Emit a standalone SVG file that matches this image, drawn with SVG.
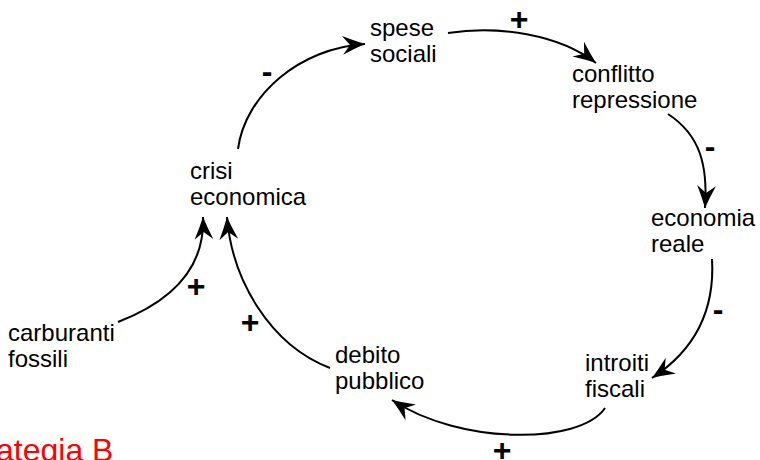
<svg xmlns="http://www.w3.org/2000/svg" width="760" height="460" viewBox="0 0 760 460">
<style>
.lbl{font-family:"Liberation Sans",Arial,sans-serif;font-size:24px;fill:#000}
.sgn{font-family:"Liberation Sans",Arial,sans-serif;font-size:32px;font-weight:bold;fill:#000;text-anchor:middle}
.title{font-family:"Liberation Sans",Arial,sans-serif;font-size:32px;fill:#ff0000}
.edge{fill:none;stroke:#000;stroke-width:2;marker-end:url(#arr)}
</style>
<defs>
<marker id="arr" markerUnits="userSpaceOnUse" orient="auto" markerWidth="30" markerHeight="30" refX="0" refY="0" viewBox="-28 -14 32 28" overflow="visible">
<path d="M0,0 Q-11,-4 -24,-10 L-16,0 L-24,10 Q-11,4 0,0 Z" fill="#000"/>
</marker>
</defs>
<rect width="760" height="460" fill="#fff"/>
<g id="edges">
<path class="edge" d="M238,149 C245,95 300,48 365,44"/>
<path class="edge" d="M448,33 C500,25 560,35 596,63"/>
<path class="edge" d="M668,114 C700,135 708,165 705,208"/>
<path class="edge" d="M712,259 C715,310 695,350 652,378"/>
<path class="edge" d="M605,408 C580,445 460,445 392,400"/>
<path class="edge" d="M330,368 C270,345 232,280 227,217"/>
<path class="edge" d="M118,322 C175,300 205,265 203,217"/>
</g>
<g id="signs">
<text class="sgn" x="519" y="30">+</text>
<text class="sgn" x="267" y="82">-</text>
<text class="sgn" x="710" y="157">-</text>
<text class="sgn" x="718" y="320">-</text>
<text class="sgn" x="502" y="461">+</text>
<text class="sgn" x="196" y="297">+</text>
<text class="sgn" x="250" y="333">+</text>
</g>
<g id="n-spese"><text class="lbl" x="370" y="36">spese</text><text class="lbl" x="370" y="62">sociali</text></g>
<g id="n-conflitto"><text class="lbl" x="572" y="82">conflitto</text><text class="lbl" x="572" y="108">repressione</text></g>
<g id="n-economia"><text class="lbl" x="651" y="226">economia</text><text class="lbl" x="651" y="252">reale</text></g>
<g id="n-introiti"><text class="lbl" x="585" y="371">introiti</text><text class="lbl" x="585" y="397">fiscali</text></g>
<g id="n-debito"><text class="lbl" x="335" y="363">debito</text><text class="lbl" x="335" y="389">pubblico</text></g>
<g id="n-crisi"><text class="lbl" x="190" y="179">crisi</text><text class="lbl" x="190" y="205">economica</text></g>
<g id="n-carburanti"><text class="lbl" x="8" y="341">carburanti</text><text class="lbl" x="8" y="367">fossili</text></g>
<text class="title" x="-4" y="461">ategia B</text>
</svg>
